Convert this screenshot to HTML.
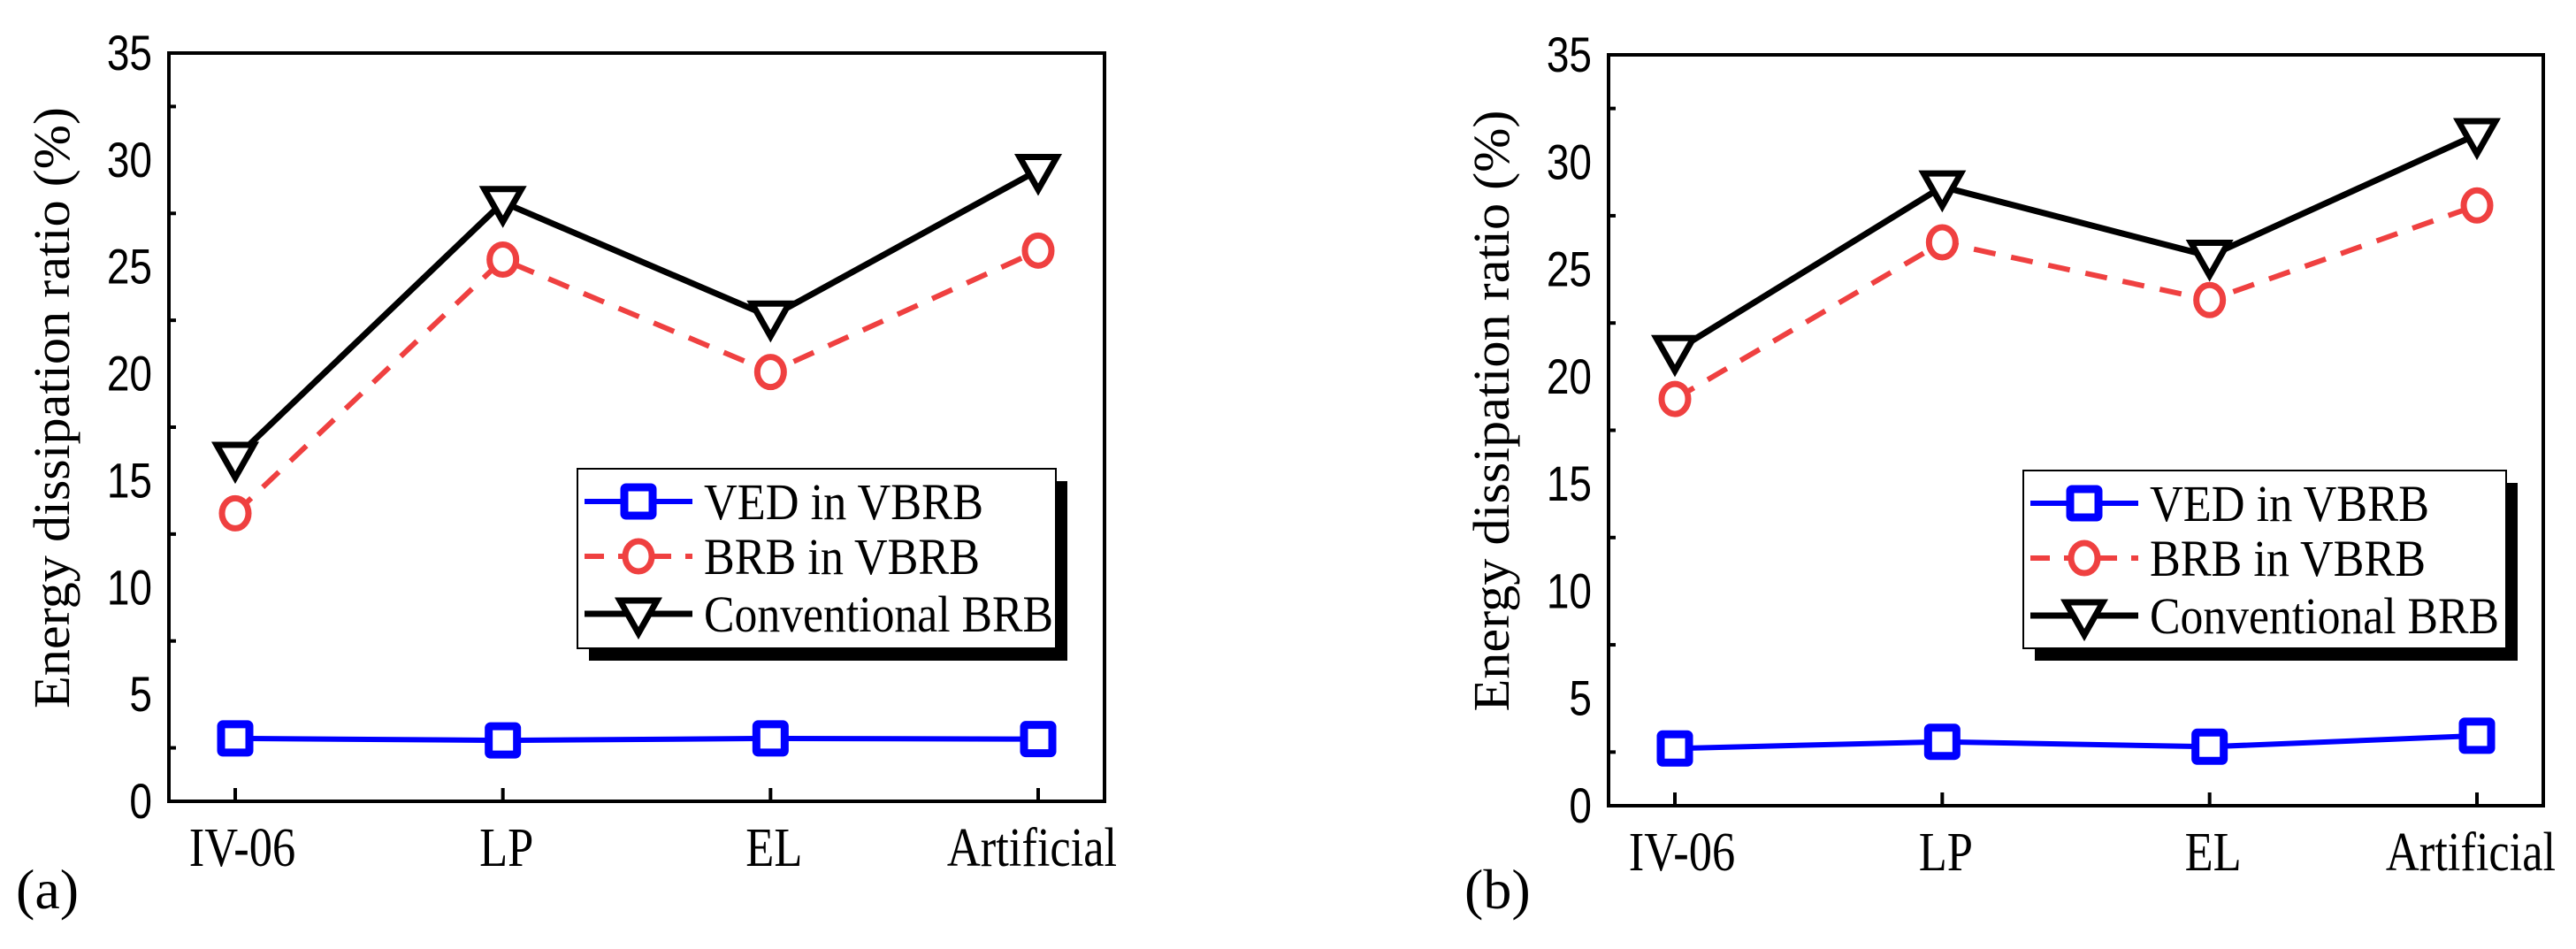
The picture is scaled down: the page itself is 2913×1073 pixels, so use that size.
<!DOCTYPE html>
<html><head><meta charset="utf-8"><style>
html,body{margin:0;padding:0;background:#fff}
svg{display:block}
</style></head><body>
<svg id="fig" width="2913" height="1073" viewBox="0 0 2913 1073" xmlns="http://www.w3.org/2000/svg"></svg>
<script>
const categories = ["IV-06","LP","EL","Artificial"];
const yTicks = [0,5,10,15,20,25,30,35];
const vedA = [2.94,2.85,2.94,2.91];
const brbA = [13.47,25.34,20.08,25.76];
const convA = [16.05,28.02,22.66,29.52];
const vedB = [2.67,2.98,2.75,3.26];
const brbB = [18.96,26.26,23.57,27.98];
const convB = [21.18,28.85,25.62,31.29];
const seriesNames = ["VED in VBRB","BRB in VBRB","Conventional BRB"];

const NS="http://www.w3.org/2000/svg";
const SERIF='"Liberation Serif", serif';
const SANS='"Liberation Sans", sans-serif';
const svg=document.getElementById('fig');
function el(tag,attrs,parent){const e=document.createElementNS(NS,tag);for(const k in attrs)e.setAttribute(k,attrs[k]);(parent||svg).appendChild(e);return e;}

function panel(p, ved, brb, conv){
  const g=el('g',{});
  
  
  const X=i=>p.x0+p.pad+i*(p.x1-p.x0-2*p.pad)/(categories.length-1);
  const Y=v=>p.y1-(v/35)*(p.y1-p.y0);
  for(let v=2.5;v<35;v+=5){
    const t=el('line',{x1:p.x0,x2:p.x0+8,y1:Y(v),y2:Y(v),stroke:'#000','stroke-width':4},g);
    
    
  }
  yTicks.forEach(v=>{
    const t=el('text',{x:0,y:0,transform:`translate(${p.x0-19},${Y(v)+19}) scale(0.92,1.12)`,'text-anchor':'end','font-family':SANS,'font-size':50},g);
    
    
    t.textContent=v;
  });
  categories.forEach((c,i)=>{
    const t=el('line',{x1:X(i),x2:X(i),y1:p.y1,y2:p.y1-15,stroke:'#000','stroke-width':4},g);
    
    
    const l=el('text',{x:0,y:0,transform:`translate(${X(i)+(i==0?8:i==3?-7:4)},${p.y1+73}) scale(0.92,1.1)`,'text-anchor':'middle','font-family':SERIF,'font-size':57},g);
    
    
    l.textContent=c;
  });
  const fr=el('rect',{x:p.x0,y:p.y0,width:p.x1-p.x0,height:p.y1-p.y0,fill:'none',stroke:'#000','stroke-width':4},g);
  
  
  const yl=el('text',{x:0,y:0,transform:`translate(${p.x0-113},${(p.y0+p.y1)/2-22}) rotate(-90)`,'text-anchor':'middle','font-family':SERIF,'font-size':58,textLength:680,lengthAdjust:'spacingAndGlyphs'},g);
  
  
  yl.textContent='Energy dissipation ratio (%)';
  const pl=el('text',{x:p.lx,y:1027,'font-family':SERIF,'font-size':64},g);
  
  
  pl.textContent='('+p.id+')';

  const pts=a=>a.map((v,i)=>X(i)+','+Y(v)).join(' ');
  let s=el('polyline',{points:pts(conv),fill:'none',stroke:'#000','stroke-width':7},g);
  
  
  s=el('polyline',{points:pts(brb),fill:'none',stroke:'#ef4040','stroke-width':6,'stroke-dasharray':'25 18'},g);
  
  
  s=el('polyline',{points:pts(ved),fill:'none',stroke:'#0000ff','stroke-width':6},g);
  
  
  const sq=(cx,cy,par)=>el('rect',{x:cx-16,y:cy-16,width:32,height:32,fill:'#fff',stroke:'#0000ff','stroke-width':9,rx:2},par);
  const ci=(cx,cy,par)=>el('ellipse',{cx:cx,cy:cy,rx:15,ry:17,fill:'#fff',stroke:'#ef4040','stroke-width':7},par);
  const tr=(cx,cy,par)=>el('polygon',{points:`${cx-21},${cy-15} ${cx+21},${cy-15} ${cx},${cy+22}`,fill:'#fff',stroke:'#000','stroke-width':7,'stroke-linejoin':'miter'},par);
  conv.forEach((v,i)=>{const m=tr(X(i),Y(v),g);});
  brb.forEach((v,i)=>{const m=ci(X(i),Y(v),g);});
  ved.forEach((v,i)=>{const m=sq(X(i),Y(v),g);});

  const lg=el('g',{},g);
  
  
  el('rect',{x:p.lgx+13,y:p.lgy+14,width:p.lgw,height:p.lgh,fill:'#000'},lg);
  el('rect',{x:p.lgx,y:p.lgy,width:p.lgw,height:p.lgh,fill:'#fff',stroke:'#000','stroke-width':2},lg);
  const rows=[37,99,164];
  const styles=[{stroke:'#0000ff','stroke-width':6},{stroke:'#ef4040','stroke-width':6,'stroke-dasharray':'22 16'},{stroke:'#000','stroke-width':7}];
  rows.forEach((dy,k)=>{
    const e=el('g',{},lg);
    
    
    const cy=p.lgy+dy, lx=p.lgx+8, mx=p.lgx+69;
    el('line',Object.assign({x1:lx,x2:lx+122,y1:cy,y2:cy},styles[k]),e);
    if(k==0)sq(mx,cy,e);else if(k==1)ci(mx,cy,e);else tr(mx,cy,e);
    const t=el('text',{x:p.lgx+143,y:cy+20,'font-family':SERIF,'font-size':58,textLength:k==2?395:k==0?316:312,lengthAdjust:'spacingAndGlyphs'},e);
    t.textContent=seriesNames[k];
  });
}
panel({id:'a',x0:191,x1:1249,y0:60,y1:906,pad:75,lx:18,lgx:653,lgy:530,lgw:541,lgh:203},vedA,brbA,convA);
panel({id:'b',x0:1819,x1:2876,y0:62,y1:911,pad:75,lx:1656,lgx:2288,lgy:532,lgw:546,lgh:201},vedB,brbB,convB);
</script>
</body></html>
